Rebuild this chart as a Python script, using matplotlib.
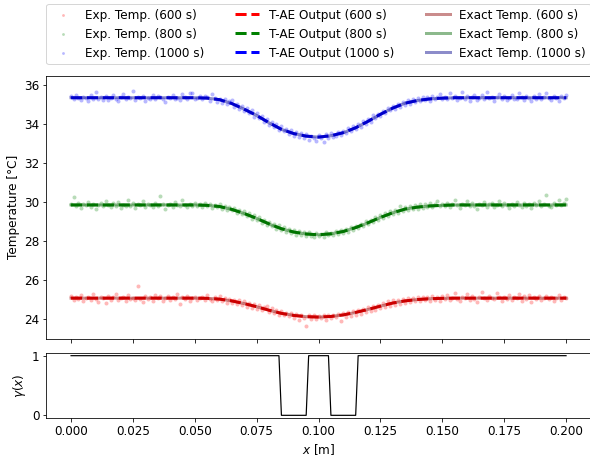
import numpy as np
import matplotlib
matplotlib.use("Agg")
import matplotlib.pyplot as plt

plt.rcParams['font.size'] = 12

# coarse grid for the smooth curves (step 0.005 m)
x_curve = np.linspace(0.0, 0.2, 41)

exact_600 = [25.07] * 11 + [25.06, 25.02, 24.92, 24.79, 24.63, 24.45, 24.29, 24.19, 24.12, 24.10,
                            24.13, 24.21, 24.33, 24.49, 24.66, 24.82, 24.93, 25.00, 25.04, 25.06] + [25.07] * 10
exact_800 = [29.85] * 11 + [29.83, 29.77, 29.62, 29.41, 29.16, 28.87, 28.63, 28.46, 28.36, 28.32,
                            28.37, 28.49, 28.69, 28.93, 29.21, 29.45, 29.64, 29.74, 29.80, 29.83] + [29.85] * 10
exact_1000 = [35.35] * 11 + [35.33, 35.25, 35.05, 34.76, 34.44, 34.06, 33.73, 33.51, 33.38, 33.33,
                             33.40, 33.55, 33.81, 34.14, 34.50, 34.82, 35.07, 35.21, 35.29, 35.33] + [35.35] * 10

tae_600 = [25.07] * 11 + [25.06, 25.02, 24.93, 24.79, 24.63, 24.45, 24.29, 24.18, 24.12, 24.10,
                          24.13, 24.21, 24.34, 24.49, 24.66, 24.82, 24.93, 25.00, 25.04, 25.06] + [25.07] * 10
tae_800 = [29.85] * 11 + [29.83, 29.77, 29.62, 29.41, 29.16, 28.88, 28.63, 28.46, 28.36, 28.32,
                          28.37, 28.49, 28.69, 28.94, 29.21, 29.45, 29.64, 29.74, 29.80, 29.83] + [29.85] * 10
tae_1000 = [35.35] * 11 + [35.33, 35.25, 35.05, 34.76, 34.44, 34.07, 33.73, 33.51, 33.38, 33.33,
                           33.40, 33.56, 33.81, 34.14, 34.50, 34.82, 35.07, 35.21, 35.29, 35.33] + [35.35] * 10

# measured points (step 0.001 m)
exp_600 = [
    25.18, 24.95, 25.12, 25.02, 25.24, 24.91, 25.09, 25.15, 24.98, 25.30,
    25.04, 24.88, 25.13, 25.07, 24.82, 25.19, 25.00, 25.11, 25.26, 24.96,
    25.08, 25.14, 24.93, 25.22, 25.03, 25.10, 24.99, 25.71, 25.05, 24.86,
    25.17, 25.01, 25.12, 24.94, 25.25, 25.06, 25.16, 24.90, 25.09, 25.20,
    24.97, 25.13, 25.04, 25.28, 24.79, 25.11, 25.02, 25.18, 24.92, 25.07,
    25.15, 25.00, 25.10,
    25.14, 24.98, 25.21, 25.03, 24.92, 25.12, 24.99, 25.16, 24.94, 25.08,
    24.84, 25.05, 24.83, 24.99, 24.76, 24.95, 24.71, 24.90, 24.64, 24.82,
    24.58, 24.75, 24.51, 24.70, 24.45, 24.62, 24.66, 24.35, 24.54, 24.30,
    24.47, 24.21, 24.39, 24.18, 24.33, 24.14, 24.30, 24.05, 24.26, 23.95,
    24.22, 24.06, 23.62, 24.20, 24.01, 24.18, 23.98, 24.15, 24.03, 24.22,
    23.96, 24.19, 24.04, 24.23, 24.08, 24.27, 23.88, 24.30, 24.12, 24.35,
    24.17, 24.41, 24.22, 24.47, 24.28, 24.53, 24.34, 24.60, 24.41, 24.67,
    24.48, 24.73, 24.54, 24.80, 24.61, 24.92, 24.68, 24.95, 24.74, 24.98,
    24.78, 25.02, 24.81, 25.06, 24.87, 25.10, 24.90, 25.12, 24.93, 25.15,
    24.96, 25.13, 24.94, 25.18, 24.99, 25.12, 24.90, 25.16,
    25.03, 25.21, 24.97, 25.10, 25.32, 25.05, 24.92, 25.14, 25.08, 25.26,
    24.99, 25.17, 25.02, 24.86, 25.12, 25.38, 25.06, 24.95, 25.19, 25.09,
    25.01, 25.34, 25.11, 24.90, 25.15, 25.04, 25.22, 24.98, 25.13, 25.07,
    25.29, 24.94, 25.16, 25.03, 25.25, 24.89, 25.12, 25.05, 25.20, 24.96,
    25.10, 25.18, 25.01, 25.14, 24.93, 25.08, 25.23, 25.00, 25.11, 25.06,
]

exp_800 = [
    29.92, 30.28, 29.80, 29.95, 29.71, 29.88, 29.83, 30.02, 29.76, 29.90,
    29.64, 29.86, 29.97, 29.79, 30.06, 29.85, 29.74, 29.93, 29.81, 29.99,
    29.70, 29.87, 29.82, 30.11, 29.78, 29.94, 29.68, 29.89, 29.84, 30.04,
    29.77, 29.91, 29.86, 29.73, 29.96, 29.80, 30.30, 29.88, 29.65, 29.83,
    29.92, 29.75, 29.98, 29.85, 29.79, 30.08, 29.87, 29.72, 29.90, 29.82,
    29.95, 29.78, 29.88,
    29.76, 29.94, 29.80, 29.90, 29.71, 29.87, 29.74, 29.92, 29.66, 29.82,
    29.57, 29.74, 29.58, 29.69, 29.44, 29.61, 29.38, 29.52, 29.30, 29.42,
    29.14, 29.33, 29.09, 29.22, 28.95, 29.10, 28.82, 28.99, 28.75, 28.88,
    28.61, 28.80, 28.55, 28.71, 28.46, 28.63, 28.40, 28.58, 28.33, 28.52,
    28.31, 28.47, 28.24, 28.44, 28.28, 28.19, 28.40, 28.25, 28.37, 28.22,
    28.46, 28.29, 28.41, 28.33, 28.50, 28.36, 28.55, 28.42, 28.61, 28.48,
    28.70, 28.57, 28.78, 28.66, 28.88, 28.75, 29.01, 28.85, 29.10, 28.96,
    29.21, 29.06, 29.33, 29.17, 29.42, 29.28, 29.55, 29.38, 29.61, 29.44,
    29.78, 29.52, 29.73, 29.58, 29.80, 29.62, 29.85, 29.66, 29.88, 29.70,
    29.91, 29.73, 29.95, 29.76, 29.89, 30.05, 29.78, 29.92,
    29.81, 29.97, 29.74, 29.89, 30.10, 29.83, 29.70, 29.92, 29.86, 30.05,
    29.78, 29.94, 29.82, 29.66, 29.90, 29.85, 30.01, 29.76, 29.88, 29.93,
    29.72, 29.87, 30.07, 29.80, 29.95, 29.84, 29.69, 29.91, 29.79, 30.02,
    29.86, 29.75, 29.96, 29.82, 29.89, 29.67, 29.93, 29.85, 30.04, 29.78,
    29.90, 30.36, 29.81, 29.74, 29.94, 29.87, 30.12, 29.83, 29.97, 30.15,
]

exp_1000 = [
    35.42, 35.28, 35.51, 35.33, 35.22, 35.40, 35.36, 35.19, 35.47, 35.31,
    35.62, 35.29, 35.38, 35.25, 35.44, 35.21, 35.35, 35.49, 35.30, 35.16,
    35.37, 35.55, 35.27, 35.41, 35.34, 35.68, 35.23, 35.39, 35.32, 35.45,
    35.18, 35.36, 35.29, 35.50, 35.26, 35.43, 35.37, 35.31, 35.12, 35.40,
    35.33, 35.47, 35.28, 35.36, 35.24, 35.52, 35.39, 35.30, 35.58, 35.61,
    35.27, 35.35, 35.44,
    35.28, 35.45, 35.37, 35.20, 35.52, 35.34, 35.12, 35.31, 35.09, 35.26,
    35.02, 35.18, 35.21, 34.88, 35.04, 34.79, 34.95, 34.68, 34.83, 34.57,
    34.71, 34.38, 34.55, 34.29, 34.40, 34.11, 34.25, 33.95, 34.12, 33.87,
    33.98, 33.70, 33.88, 33.62, 33.74, 33.49, 33.68, 33.40, 33.57, 33.36,
    33.52, 33.30, 33.47, 33.19, 33.41, 33.28, 33.15, 33.44, 33.26, 33.09,
    33.48, 33.31, 33.55, 33.35, 33.38, 33.60, 33.42, 33.66, 33.52, 33.79,
    33.63, 33.88, 33.74, 34.02, 33.85, 34.15, 34.00, 34.26, 34.12, 34.45,
    34.30, 34.51, 34.39, 34.68, 34.55, 34.81, 34.70, 34.93, 34.78, 35.05,
    34.90, 35.12, 34.98, 35.21, 35.04, 35.26, 35.11, 35.33, 35.17, 35.38,
    35.22, 35.40, 35.19, 35.45, 35.26, 35.39, 35.55, 35.30,
    35.41, 35.27, 35.58, 35.33, 35.46, 35.22, 35.36, 35.62, 35.30, 35.43,
    35.19, 35.38, 35.51, 35.25, 35.34, 35.47, 35.29, 35.65, 35.32, 35.40,
    35.16, 35.37, 35.55, 35.28, 35.44, 35.21, 35.35, 35.49, 35.31, 35.26,
    35.60, 35.38, 35.23, 35.42, 35.34, 35.18, 35.46, 35.30, 35.53, 35.27,
    35.39, 35.57, 35.32, 35.24, 35.45, 35.36, 35.20, 35.43, 35.33, 35.48,
]

# gamma(x) on the same 0.001 m grid
gamma = [1] * 85 + [0] * 11 + [1] * 9 + [0] * 11 + [1] * 85

times = ['600 s', '800 s', '1000 s']
exp_data = [exp_600, exp_800, exp_1000]
tae_data = [tae_600, tae_800, tae_1000]
exact_data = [exact_600, exact_800, exact_1000]
colors = ['red', 'green', 'blue']
exact_colors = ['darkred', 'darkgreen', 'darkblue']

fig = plt.figure(figsize=(590 / 72, 456 / 72), dpi=72)
ax = fig.add_axes([46.3 / 590, 117.3 / 456, 544.5 / 590, 263 / 456])
ax2 = fig.add_axes([46.3 / 590, 37.7 / 456, 544.5 / 590, 65.6 / 456], sharex=ax)

h_exp, h_tae, h_exact = [], [], []
for t, e, tae, ex, c, ec in zip(times, exp_data, tae_data, exact_data, colors, exact_colors):
    x_exp = np.linspace(0.0, 0.2, len(e))
    h_exp.append(ax.scatter(x_exp, e, s=16, color=c, alpha=0.28, linewidths=0,
                            label=f'Exp. Temp. ({t})'))
    h_tae.append(ax.plot(x_curve, tae, '--', color=c, lw=3, label=f'T-AE Output ({t})')[0])
    h_exact.append(ax.plot(x_curve, ex, '-', color=ec, lw=3, alpha=0.45,
                           label=f'Exact Temp. ({t})')[0])

ax.set_xlim(-0.01, 0.21)
ax.set_ylim(22.99, 36.48)
ax.set_yticks([24, 26, 28, 30, 32, 34, 36])
ax.set_ylabel('Temperature [°C]')
ax.tick_params(labelbottom=False)

handles = h_exp + h_tae + h_exact
ax.legend(handles=handles, ncol=3, loc='lower left', mode='expand',
          bbox_to_anchor=(0, 1.043, 1, 0.2), borderaxespad=0, markerscale=0.7)

x_g = np.linspace(0.0, 0.2, len(gamma))
ax2.plot(x_g, gamma, color='black', lw=1.2)
ax2.set_ylim(-0.05, 1.05)
ax2.set_yticks([0, 1])
ax2.set_ylabel(r'$\gamma(x)$')
ax2.set_xlabel(r'$x$ [m]')
ax2.set_xticks([0.0, 0.025, 0.05, 0.075, 0.1, 0.125, 0.15, 0.175, 0.2])
ax2.xaxis.set_major_formatter(matplotlib.ticker.FormatStrFormatter('%.3f'))

fig.savefig('out.png', dpi=72)
